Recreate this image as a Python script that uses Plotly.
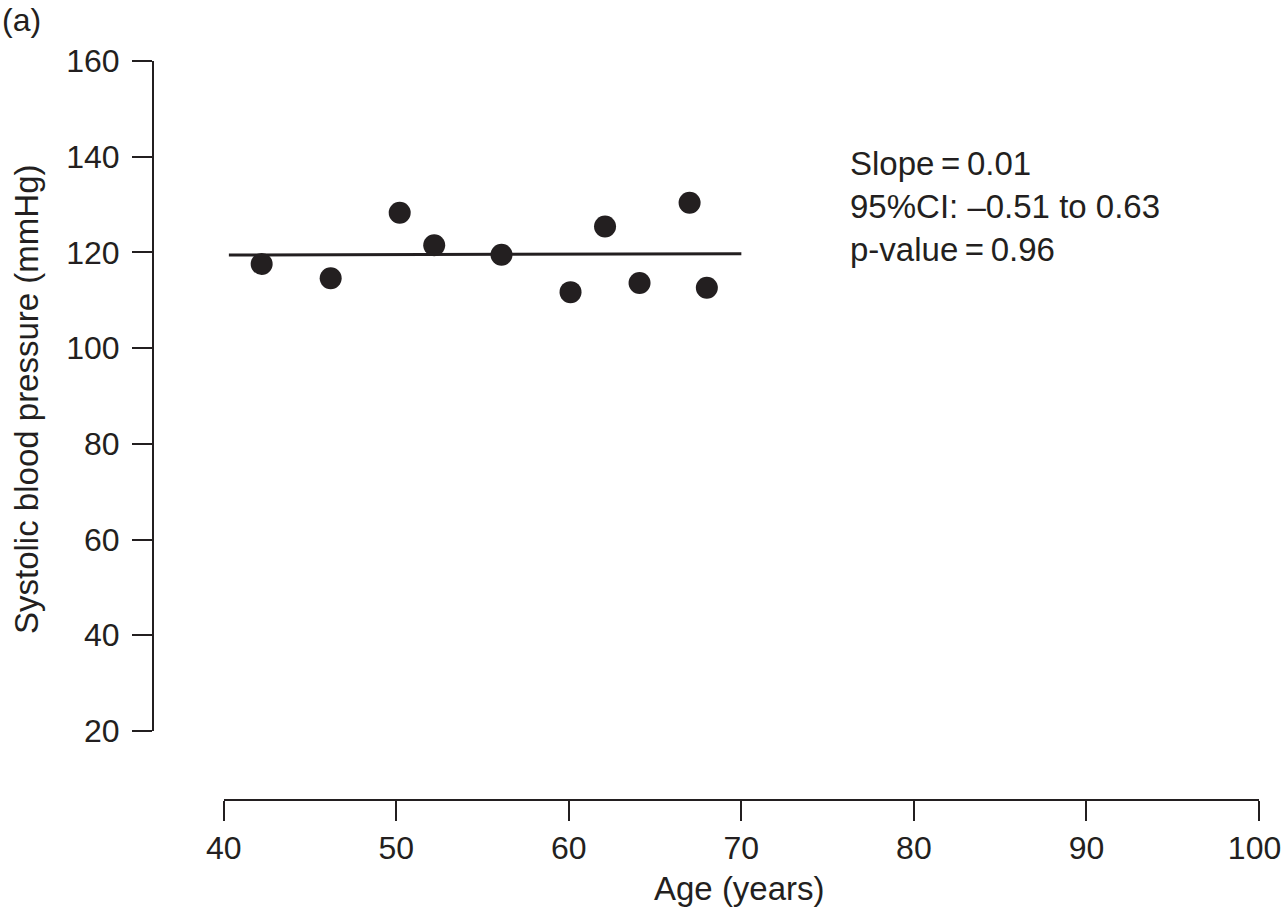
import plotly.graph_objects as go

# Data
age = [42.2, 46.2, 50.2, 52.2, 56.1, 60.1, 62.1, 64.1, 67.0, 68.0]
sbp = [117.6, 114.6, 128.3, 121.5, 119.5, 111.7, 125.4, 113.6, 130.4, 112.6]
fit_x = [40.3, 70.0]
fit_y = [119.45, 119.75]
x_ticks = [40, 50, 60, 70, 80, 90, 100]
x_tick_text = ["40", "50", "60", "70", "80", "90", "100\u00a0"]
y_ticks = [20, 40, 60, 80, 100, 120, 140, 160]
stats_lines = ["Slope\u2009=\u20090.01", "95%CI: \u20130.51 to 0.63", "p-value\u2009=\u20090.96"]

W, H = 1283, 917
INK = "#231f20"
FONT = "Liberation Sans, Arial, Helvetica, sans-serif"
FS = 32

fig = go.Figure()
fig.add_trace(go.Scatter(x=fit_x, y=fit_y, mode="lines",
                         line=dict(color=INK, width=3), showlegend=False, hoverinfo="skip"))
fig.add_trace(go.Scatter(x=age, y=sbp, mode="markers",
                         marker=dict(color=INK, size=22, line=dict(width=0)), showlegend=False))

# pixel geometry of the figure
x_left, x_right = 223.7, 1259.0
y_top, y_bot = 61.0, 731.0
x_axis_y = 800.0
y_axis_x = 153.0

axis_common = dict(ticks="outside", ticklen=20, tickwidth=2, tickcolor=INK,
                   showline=True, linecolor=INK, linewidth=2, showgrid=False,
                   zeroline=False, automargin=False, ticklabeloverflow="allow",
                   tickfont=dict(family=FONT, size=FS, color=INK))

fig.update_layout(
    template="none",
    width=W, height=H, autosize=False,
    margin=dict(l=0, r=0, t=0, b=0, pad=0),
    paper_bgcolor="white", plot_bgcolor="white",
    showlegend=False,
    font=dict(family=FONT, size=FS, color=INK),
    xaxis=dict(domain=[x_left / W, x_right / W], range=[40, 100],
               anchor="free", position=1 - x_axis_y / H,
               tickvals=x_ticks, ticktext=x_tick_text, **axis_common),
    yaxis=dict(domain=[1 - y_bot / H, 1 - y_top / H], range=[20, 160],
               anchor="free", position=y_axis_x / W, tickvals=y_ticks,
               ticklabelstandoff=6, **axis_common),
)

fig.add_annotation(text="<br>".join(stats_lines), xref="paper", yref="paper",
                   x=848 / W, y=1 - 143 / H, xanchor="left", yanchor="top",
                   align="left", showarrow=False, font=dict(size=33, color=INK, family=FONT))
fig.add_annotation(text="(a)", xref="paper", yref="paper", x=0, y=1,
                   xanchor="left", yanchor="top", showarrow=False,
                   font=dict(size=FS, color=INK, family=FONT))
fig.add_annotation(text="Systolic blood pressure (mmHg)", xref="paper", yref="paper",
                   x=27 / W, y=1 - 400 / H, textangle=-90, showarrow=False,
                   xanchor="center", yanchor="middle",
                   font=dict(size=33, color=INK, family=FONT))
fig.add_annotation(text="Age (years)", xref="paper", yref="paper",
                   x=739 / W, y=1 - 888 / H, showarrow=False,
                   xanchor="center", yanchor="middle",
                   font=dict(size=33, color=INK, family=FONT))

fig.write_html("out.html", config={"displayModeBar": False},
               post_script="document.body.style.margin='0';document.body.style.overflow='hidden';")
